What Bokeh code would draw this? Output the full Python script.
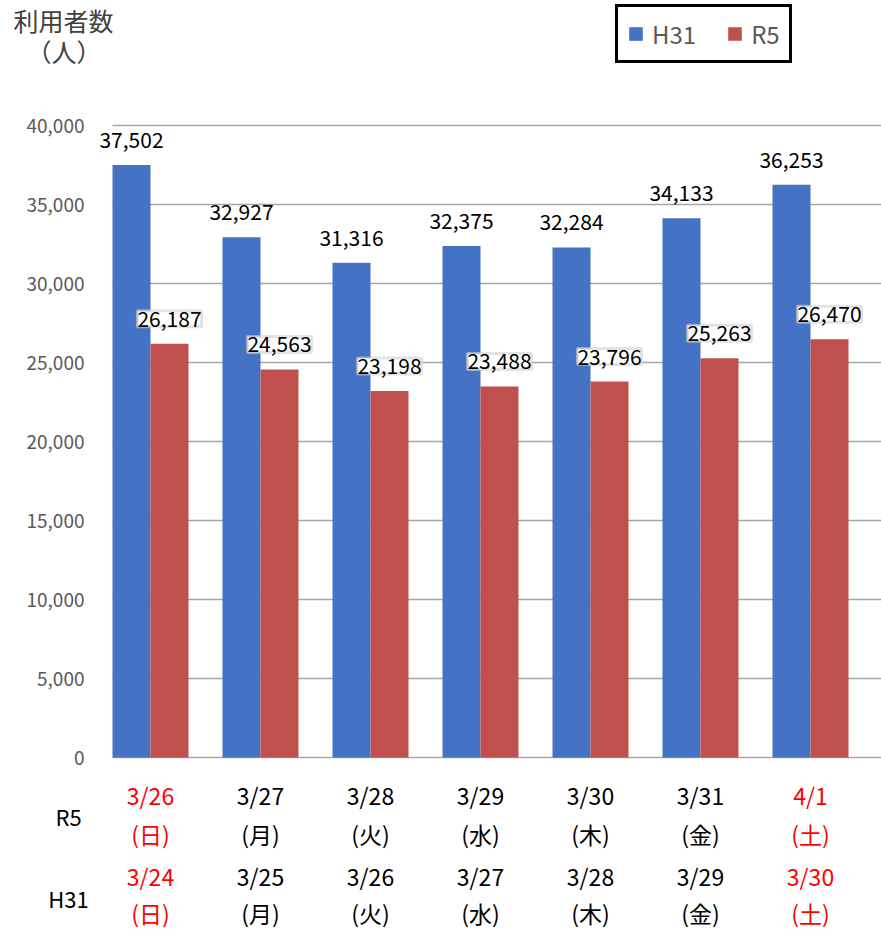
from bokeh.plotting import figure
from bokeh.models import (ColumnDataSource, Range1d, LabelSet, Label, Legend, LegendItem)
from bokeh.core.properties import value
from bokeh.transform import dodge
from bokeh.embed import file_html
from bokeh.resources import INLINE

# ---- data ----
r5_dates = ["3/26", "3/27", "3/28", "3/29", "3/30", "3/31", "4/1"]
h31_dates = ["3/24", "3/25", "3/26", "3/27", "3/28", "3/29", "3/30"]
weekdays = ["(日)", "(月)", "(火)", "(水)", "(木)", "(金)", "(土)"]
holiday = [True, False, False, False, False, False, True]
h31_values = [37502, 32927, 31316, 32375, 32284, 34133, 36253]
r5_values = [26187, 24563, 23198, 23488, 23796, 25263, 26470]
y_ticks = [0, 5000, 10000, 15000, 20000, 25000, 30000, 35000, 40000]
row_names = ["R5", "H31"]

BLUE = "#4472C4"
RED = "#C0504D"
GRID = "#a6a6a6"
JP = "Noto Sans CJK JP"

idx = list(range(len(h31_values)))
src = ColumnDataSource(dict(
    x=idx,
    h31=h31_values,
    r5=r5_values,
    h31_text=[f"{v:,}" for v in h31_values],
    r5_text=[f"{v:,}" for v in r5_values],
    r5_date=r5_dates,
    h31_date=h31_dates,
    wd=weekdays,
    color=["#FF0000" if h else "#000000" for h in holiday],
))

# ---- layout geometry (pixels) ----
W, H = 881, 929
PX_PER_CAT = 110.0           # horizontal distance between groups
PX_PER_UNIT = 632.0 / 40000  # vertical scale
ORIGIN_X, ORIGIN_Y = 150.0, 757.0   # pixel position of (0, 0) inside the figure
bar_w = 38.0 / PX_PER_CAT

x_start = -ORIGIN_X / PX_PER_CAT
x_end = x_start + W / PX_PER_CAT
y_end = ORIGIN_Y / PX_PER_UNIT
y_start = -(H - ORIGIN_Y) / PX_PER_UNIT
area_left = -bar_w   # plot area starts at the first bar's left edge

p = figure(width=W, height=H, output_backend="svg", toolbar_location=None,
           x_range=Range1d(x_start, x_end), y_range=Range1d(y_start, y_end),
           min_border=0)
p.outline_line_color = None
p.axis.visible = False
p.grid.visible = False
p.background_fill_color = "white"
p.border_fill_color = "white"

# gridlines (value axis) and category axis line at 0
grid_src = ColumnDataSource(dict(y=y_ticks, text=[f"{t:,}" for t in y_ticks],
                                 x0=[area_left] * len(y_ticks), x1=[x_end] * len(y_ticks)))
p.segment(x0="x0", x1="x1", y0="y", y1="y", source=grid_src,
          line_color=GRID, line_width=1.5)
p.add_layout(LabelSet(x="x0", y="y", text="text", source=grid_src, x_offset=-28,
                      text_align="right", text_baseline="middle",
                      text_font=value(JP), text_font_size="19px", text_color="#595959"))

b1 = p.vbar(x=dodge("x", -bar_w / 2, range=p.x_range), top="h31", width=bar_w,
            source=src, fill_color=BLUE, line_color=None)
b2 = p.vbar(x=dodge("x", bar_w / 2, range=p.x_range), top="r5", width=bar_w,
            source=src, fill_color=RED, line_color=None)

# data labels
p.add_layout(LabelSet(x=dodge("x", -bar_w / 2, range=p.x_range), y="h31", text="h31_text",
                      source=src, text_align="center", text_baseline="bottom", y_offset=17,
                      text_font=value(JP), text_font_size="21px", text_color="black"))
p.add_layout(LabelSet(x=dodge("x", bar_w / 2, range=p.x_range), y="r5", text="r5_text",
                      source=src, text_align="center", text_baseline="bottom", y_offset=17,
                      text_font=value(JP), text_font_size="21px", text_color="black",
                      background_fill_color="white", background_fill_alpha=1.0,
                      border_line_color="#d0d0d0", border_line_alpha=0.6,
                      border_line_width=3))

# category labels below the axis
common = dict(source=src, x="x", y=0, text_align="center", text_baseline="middle",
              text_font=value(JP), text_font_size="23px", text_color="color")
p.add_layout(LabelSet(text="r5_date", y_offset=-37, **common))
p.add_layout(LabelSet(text="wd", y_offset=-76, **common))
p.add_layout(LabelSet(text="h31_date", y_offset=-118, **common))
p.add_layout(LabelSet(text="wd", y_offset=-155, **common))

for name, off in zip(row_names, [-58, -140]):
    p.add_layout(Label(x=0, y=0, x_offset=-82, y_offset=off, text=name,
                       text_align="center", text_baseline="middle", text_font=JP,
                       text_font_size="22px", text_color="black"))

# axis title
p.add_layout(Label(x=x_start, y=y_end, x_offset=13, y_offset=-1, text="利用者数",
                   text_align="left", text_baseline="top", text_font=JP,
                   text_font_size="25px", text_color="#404040"))
p.add_layout(Label(x=x_start, y=y_end, x_offset=26, y_offset=-32, text="（人）",
                   text_align="left", text_baseline="top", text_font=JP,
                   text_font_size="25px", text_color="#404040"))

# legend
legend = Legend(items=[LegendItem(label="H31", renderers=[b1]),
                       LegendItem(label="R5", renderers=[b2])],
                orientation="horizontal", location=(615, 866),
                border_line_color="black", border_line_width=3, border_line_alpha=1.0,
                label_text_font=JP, label_text_font_size="24px",
                label_text_color="#595959", glyph_width=17, glyph_height=17,
                label_standoff=8, spacing=30, padding=9, margin=0,
                background_fill_color="white", background_fill_alpha=1.0)
p.add_layout(legend, "center")

open("out.html", "w").write(file_html(p, INLINE))
